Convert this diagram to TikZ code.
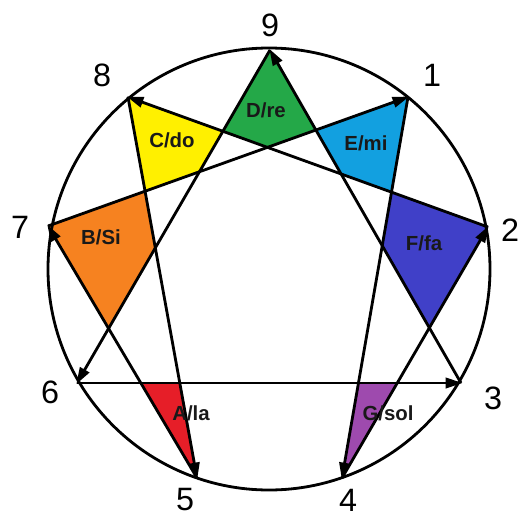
\documentclass[tikz,border=0pt]{standalone}
\usepackage{fontspec}
\setmainfont{Liberation Sans}
\usetikzlibrary{arrows.meta,calc}
\definecolor{colre}{RGB}{36,168,72}
\definecolor{coldo}{RGB}{255,240,0}
\definecolor{colmi}{RGB}{18,160,224}
\definecolor{colfa}{RGB}{64,64,200}
\definecolor{colsi}{RGB}{246,130,32}
\definecolor{colla}{RGB}{230,30,40}
\definecolor{colsol}{RGB}{158,74,174}
\begin{document}
\begin{tikzpicture}[x=0.25mm,y=-0.25mm,line width=2pt,line join=round]
  \tikzstyle{arrow}=[-{Triangle[length=4.2mm,width=2.6mm]},shorten >=-1pt]
  \tikzstyle{number}=[inner sep=0pt,font=\fontsize{23}{23}\selectfont]
  \tikzstyle{note}=[inner sep=0pt,font=\fontsize{14.5}{15}\selectfont\bfseries,text=black!90]
  \useasboundingbox (0,0) rectangle (520,527);
  %Puntos del circulo
  \coordinate (p9) at (270,50);
  \coordinate (p1) at (408,97);
  \coordinate (p2) at (488,227);
  \coordinate (p3) at (461,383);
  \coordinate (p4) at (342,478);
  \coordinate (p5) at (197,478);
  \coordinate (p6) at (77,383);
  \coordinate (p7) at (48,226);
  \coordinate (p8) at (128,97);
  %Zonas de color
  \fill[colre] (p9) -- (intersection of p9--p6 and p8--p2) -- (intersection of p8--p2 and p7--p1)
     -- (intersection of p7--p1 and p9--p3) -- cycle;
  \fill[coldo] (p8) -- (intersection of p8--p2 and p9--p6) -- (intersection of p9--p6 and p7--p1)
     -- (intersection of p7--p1 and p8--p5) -- cycle;
  \fill[colmi] (p1) -- (intersection of p7--p1 and p9--p3) -- (intersection of p9--p3 and p8--p2)
     -- (intersection of p8--p2 and p1--p4) -- cycle;
  \fill[colfa] (p2) -- (intersection of p8--p2 and p1--p4) -- (intersection of p1--p4 and p9--p3)
     -- (intersection of p9--p3 and p4--p2) -- cycle;
  \fill[colsi] (p7) -- (intersection of p7--p1 and p8--p5) -- (intersection of p8--p5 and p9--p6)
     -- (intersection of p9--p6 and p5--p7) -- cycle;
  \fill[colla] (p5) -- (intersection of p6--p3 and p5--p7) -- (intersection of p6--p3 and p8--p5) -- cycle;
  \fill[colsol] (p4) -- (intersection of p6--p3 and p1--p4) -- (intersection of p6--p3 and p4--p2) -- cycle;
  %Circulo
  \node[circle,draw,minimum size=110.5mm,inner sep=0pt] (circ) at (269,269) {};
  %Lineas
  \draw[arrow] (p6) -- (p3);
  \draw[arrow] (p3) -- (p9);
  \draw[arrow] (p9) -- (p6);
  \draw[arrow] (p1) -- (p4);
  \draw[arrow] (p4) -- (p2);
  \draw[arrow] (p2) -- (p8);
  \draw[arrow] (p8) -- (p5);
  \draw[arrow] (p5) -- (p7);
  \draw[arrow] (p7) -- (p1);
  %Numeros
  \node[number] (n9) at (270,25) {9};
  \node[number] (n1) at (432,75) {1};
  \node[number] (n2) at (510,230) {2};
  \node[number] (n3) at (493,398) {3};
  \node[number] (n4) at (348,500) {4};
  \node[number] (n5) at (185,500) {5};
  \node[number] (n6) at (50,392) {6};
  \node[number] (n7) at (20,227) {7};
  \node[number] (n8) at (102,75) {8};
  %Notas
  \node[note] (re) at (266,110) {D/re};
  \node[note] (do) at (172,140) {C/do};
  \node[note] (mi) at (366,143) {E/mi};
  \node[note] (fa) at (424,243) {F/fa};
  \node[note] (si) at (101,237) {B/Si};
  \node[note] (la) at (191,413) {A/la};
  \node[note] (sol) at (388,413) {G/sol};
\end{tikzpicture}
\end{document}
